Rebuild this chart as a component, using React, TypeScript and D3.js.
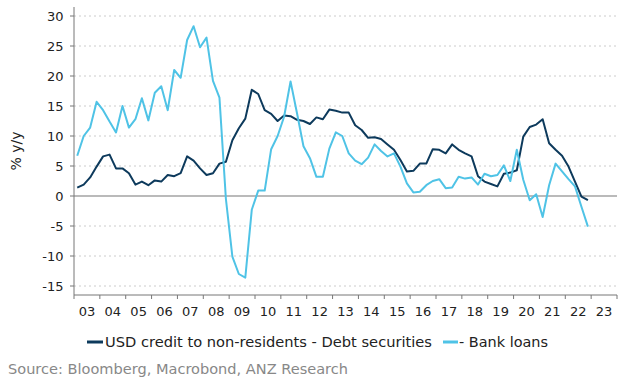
import React from "react";
import * as d3 from "d3";

const years = ["03","04","05","06","07","08","09","10","11","12","13","14","15","16","17","18","19","20","21","22","23"];
const yTicks = [-15, -10, -5, 0, 5, 10, 15, 20, 25, 30];

// Quarterly values 2003Q1 .. 2022Q4
const debtSecurities = [
  1.4, 1.9, 3.1, 4.9,
  6.6, 6.9, 4.6, 4.6,
  3.8, 1.9, 2.4, 1.8,
  2.6, 2.4, 3.5, 3.3,
  3.8, 6.6, 5.9, 4.6,
  3.5, 3.8, 5.4, 5.7,
  9.3, 11.3, 12.9, 17.7,
  17.0, 14.3, 13.7, 12.5,
  13.4, 13.3, 12.7, 12.5,
  12.0, 13.1, 12.8, 14.4,
  14.2, 13.9, 13.9, 11.8,
  11.0, 9.7, 9.8, 9.5,
  8.6, 7.7, 6.0, 4.1,
  4.2, 5.4, 5.4, 7.8,
  7.7, 7.1, 8.6, 7.7,
  7.1, 6.6, 3.3, 2.4,
  2.0, 1.6, 3.7, 3.9,
  4.3, 9.9, 11.5, 11.9,
  12.8, 8.8, 7.7, 6.7,
  4.9, 2.4, -0.1, -0.7,
];

const bankLoans = [
  6.7, 10.0, 11.4, 15.7,
  14.3, 12.4, 10.6, 15.0,
  11.4, 12.8, 16.3, 12.6,
  17.2, 18.3, 14.3, 21.0,
  19.7, 26.0, 28.3, 24.8,
  26.4, 19.2, 16.4, -0.5,
  -10.1, -13.0, -13.6, -2.3,
  0.9, 0.9, 7.8, 10.0,
  13.2, 19.1, 13.8, 8.3,
  6.3, 3.2, 3.2, 7.9,
  10.6, 10.0, 7.1, 5.9,
  5.3, 6.4, 8.6, 7.5,
  6.6, 7.1, 4.9, 2.1,
  0.6, 0.7, 1.8, 2.5,
  2.8, 1.3, 1.4, 3.2,
  2.9, 3.1, 1.9, 3.7,
  3.3, 3.5, 5.1, 2.5,
  7.7, 2.7, -0.7, 0.3,
  -3.5, 1.8, 5.4, 4.1,
  2.8, 1.6, -1.8, -5.1,
];

const seriesNames = ["USD credit to non-residents - Debt securities", "- Bank loans"];
const colors = ["#0d3a5c", "#4fc3e6"];
const font = "Verdana, 'DejaVu Sans', sans-serif";

export default function App() {
  const W = 637, H = 387;
  const left = 74, right = 617, top = 7, bottom = 295;
  const x = d3.scaleLinear().domain([2003, 2024]).range([left, right]);
  const y = d3.scaleLinear().domain([-16.5, 31.5]).range([bottom, top]);
  const t = (i: number) => 2003 + (i + 0.5) / 4;
  const line = d3.line<number>().x((_, i) => x(t(i))).y((d) => y(d));

  return (
    <svg width={W} height={H} style={{ position: "absolute", left: 0, top: 0, background: "#fff" }}>
      {yTicks.map((v) => (
        <g key={v}>
          <line x1={left} x2={right} y1={y(v)} y2={y(v)}
            stroke={v === 0 ? "#777" : "#ccc"} strokeWidth={v === 0 ? 1.2 : 1}
            strokeDasharray={v === 0 ? undefined : "2,3"} />
          <line x1={left - 4} x2={left} y1={y(v)} y2={y(v)} stroke="#777" />
          <text x={63.5} y={y(v)} dy="0.36em" textAnchor="end" fontFamily={font} fontSize={13} fill="#222">{v}</text>
        </g>
      ))}
      <line x1={left} x2={left} y1={top} y2={bottom} stroke="#777" />
      <line x1={left} x2={right} y1={bottom} y2={bottom} stroke="#777" />
      {d3.range(2003, 2025).map((yr) => (
        <line key={yr} x1={x(yr)} x2={x(yr)} y1={bottom} y2={bottom + 4} stroke="#777" />
      ))}
      {years.map((lab, i) => (
        <text key={lab} x={x(2003 + i + 0.5)} y={316} textAnchor="middle" fontFamily={font} fontSize={13} fill="#222">{lab}</text>
      ))}
      <text transform={`translate(21,${(top + bottom) / 2}) rotate(-90)`} textAnchor="middle" fontFamily={font} fontSize={14} fill="#222">% y/y</text>
      <path d={line(debtSecurities) ?? ""} fill="none" stroke={colors[0]} strokeWidth={2} strokeLinejoin="round" />
      <path d={line(bankLoans) ?? ""} fill="none" stroke={colors[1]} strokeWidth={2} strokeLinejoin="round" />
      <line x1={87} x2={103} y1={342} y2={342} stroke={colors[0]} strokeWidth={3} />
      <text x={105} y={347} fontFamily={font} fontSize={14} textLength={327} lengthAdjust="spacingAndGlyphs" fill="#222">{seriesNames[0]}</text>
      <line x1={443} x2={458} y1={342} y2={342} stroke={colors[1]} strokeWidth={3} />
      <text x={459} y={347} fontFamily={font} fontSize={14} textLength={89} lengthAdjust="spacingAndGlyphs" fill="#222">{seriesNames[1]}</text>
      <text x={8} y={374} fontFamily={font} fontSize={14} textLength={340} lengthAdjust="spacingAndGlyphs" fill="#888">Source: Bloomberg, Macrobond, ANZ Research</text>
    </svg>
  );
}
